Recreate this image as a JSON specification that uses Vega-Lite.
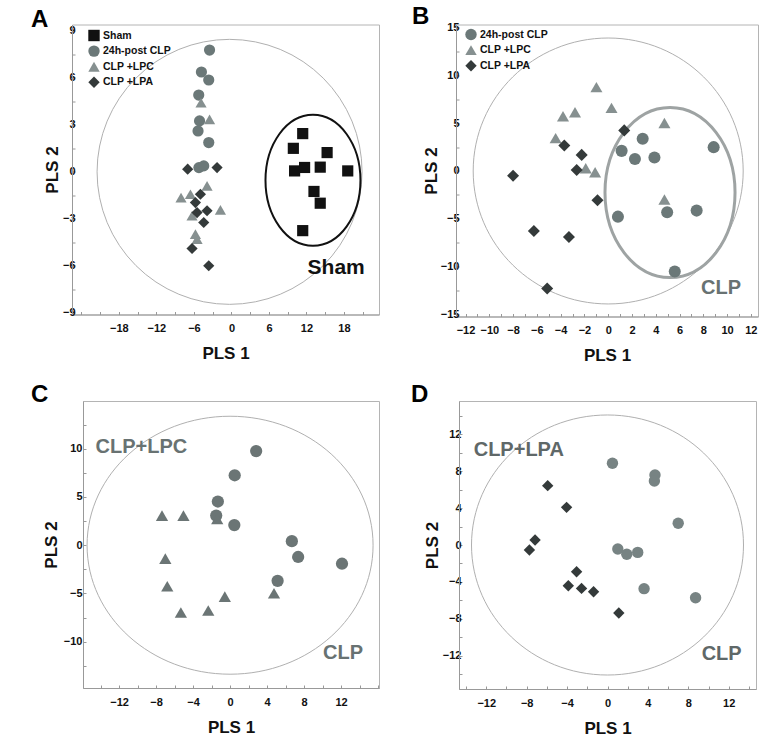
{
  "$schema": "https://vega.github.io/schema/vega-lite/v6.json",
  "background": "white",
  "padding": {"left": 30, "top": 3.5, "right": 0, "bottom": 0},
  "config": {
    "view": {"stroke": "#b4b4b4", "strokeWidth": 1},
    "axis": {
      "grid": false,
      "domainColor": "#999999",
      "tickColor": "#999999",
      "tickSize": -3,
      "labelFont": "Liberation Sans",
      "labelFontWeight": "bold",
      "labelFontSize": 11,
      "labelColor": "#111111",
      "labelOverlap": false,
      "titleFont": "Liberation Sans",
      "titleFontWeight": "bold",
      "titleFontSize": 17,
      "titleColor": "#111111"
    },
    "axisX": {"labelPadding": 11, "titlePadding": 12},
    "axisY": {"labelPadding": 4, "titlePadding": 3},
    "legend": {
      "title": null,
      "orient": "none",
      "padding": 0,
      "labelFont": "Liberation Sans",
      "labelFontWeight": "bold",
      "labelFontSize": 10.5,
      "labelColor": "#111111",
      "symbolSize": 130,
      "symbolStrokeWidth": 0,
      "rowPadding": 3.6,
      "labelOffset": 3
    },
    "title": {"font": "Liberation Sans", "fontSize": 24, "fontWeight": "bold", "color": "#000000", "anchor": "start", "frame": "group", "offset": 0, "baseline": "alphabetic"}
  },
  "datasets": {
    "pa": [
      {"g": "Sham", "pls1": 11.4, "pls2": 2.44},
      {"g": "Sham", "pls1": 9.9, "pls2": 1.5},
      {"g": "Sham", "pls1": 15.3, "pls2": 1.23},
      {"g": "Sham", "pls1": 10.1, "pls2": 0.06},
      {"g": "Sham", "pls1": 11.7, "pls2": 0.28},
      {"g": "Sham", "pls1": 14.2, "pls2": 0.3},
      {"g": "Sham", "pls1": 18.6, "pls2": 0.06},
      {"g": "Sham", "pls1": 13.2, "pls2": -1.25},
      {"g": "Sham", "pls1": 14.2, "pls2": -2.0},
      {"g": "Sham", "pls1": 11.4, "pls2": -3.75},
      {"g": "24h-post CLP", "pls1": -3.5, "pls2": 7.77},
      {"g": "24h-post CLP", "pls1": -4.8, "pls2": 6.37},
      {"g": "24h-post CLP", "pls1": -3.63, "pls2": 5.86},
      {"g": "24h-post CLP", "pls1": -5.23, "pls2": 4.9},
      {"g": "24h-post CLP", "pls1": -5.1, "pls2": 3.25},
      {"g": "24h-post CLP", "pls1": -5.34, "pls2": 2.61},
      {"g": "24h-post CLP", "pls1": -3.63, "pls2": 1.87},
      {"g": "24h-post CLP", "pls1": -5.2, "pls2": 0.27},
      {"g": "24h-post CLP", "pls1": -4.43, "pls2": 0.38},
      {"g": "CLP +LPC", "pls1": -4.86, "pls2": 4.41},
      {"g": "CLP +LPC", "pls1": -3.5, "pls2": 3.35},
      {"g": "CLP +LPC", "pls1": -3.9, "pls2": -0.9},
      {"g": "CLP +LPC", "pls1": -8.06, "pls2": -1.64},
      {"g": "CLP +LPC", "pls1": -6.56, "pls2": -1.43},
      {"g": "CLP +LPC", "pls1": -1.76, "pls2": -2.42},
      {"g": "CLP +LPC", "pls1": -6.3, "pls2": -2.8},
      {"g": "CLP +LPC", "pls1": -5.76, "pls2": -3.97},
      {"g": "CLP +LPC", "pls1": -5.5, "pls2": -4.29},
      {"g": "CLP +LPA", "pls1": -7.0, "pls2": 0.17},
      {"g": "CLP +LPA", "pls1": -2.3, "pls2": 0.27},
      {"g": "CLP +LPA", "pls1": -4.96, "pls2": -1.43},
      {"g": "CLP +LPA", "pls1": -5.76, "pls2": -1.96},
      {"g": "CLP +LPA", "pls1": -3.9, "pls2": -2.48},
      {"g": "CLP +LPA", "pls1": -5.5, "pls2": -2.6},
      {"g": "CLP +LPA", "pls1": -4.43, "pls2": -3.23},
      {"g": "CLP +LPA", "pls1": -6.3, "pls2": -4.89},
      {"g": "CLP +LPA", "pls1": -3.63, "pls2": -5.99}
    ],
    "pb": [
      {"g": "24h-post CLP", "pls1": 1.13, "pls2": 2.1},
      {"g": "24h-post CLP", "pls1": 2.9, "pls2": 3.36},
      {"g": "24h-post CLP", "pls1": 2.25, "pls2": 1.26},
      {"g": "24h-post CLP", "pls1": 3.89, "pls2": 1.4},
      {"g": "24h-post CLP", "pls1": 8.87, "pls2": 2.49},
      {"g": "24h-post CLP", "pls1": 0.82, "pls2": -4.77},
      {"g": "24h-post CLP", "pls1": 4.96, "pls2": -4.31},
      {"g": "24h-post CLP", "pls1": 7.44, "pls2": -4.14},
      {"g": "24h-post CLP", "pls1": 5.6, "pls2": -10.5},
      {"g": "CLP +LPC", "pls1": -0.99, "pls2": 8.76},
      {"g": "CLP +LPC", "pls1": 0.28, "pls2": 6.59},
      {"g": "CLP +LPC", "pls1": -3.8, "pls2": 5.71},
      {"g": "CLP +LPC", "pls1": -2.79, "pls2": 6.13},
      {"g": "CLP +LPC", "pls1": -4.42, "pls2": 3.43},
      {"g": "CLP +LPC", "pls1": 4.73, "pls2": 5.01},
      {"g": "CLP +LPC", "pls1": -1.89, "pls2": 0.28},
      {"g": "CLP +LPC", "pls1": -1.1, "pls2": -0.14},
      {"g": "CLP +LPC", "pls1": 4.73, "pls2": -2.98},
      {"g": "CLP +LPA", "pls1": 1.35, "pls2": 4.24},
      {"g": "CLP +LPA", "pls1": -3.69, "pls2": 2.66},
      {"g": "CLP +LPA", "pls1": -2.23, "pls2": 1.68},
      {"g": "CLP +LPA", "pls1": -2.65, "pls2": 0.1},
      {"g": "CLP +LPA", "pls1": -8.0, "pls2": -0.49},
      {"g": "CLP +LPA", "pls1": -0.9, "pls2": -3.05},
      {"g": "CLP +LPA", "pls1": -6.25, "pls2": -6.27},
      {"g": "CLP +LPA", "pls1": -3.3, "pls2": -6.9},
      {"g": "CLP +LPA", "pls1": -5.13, "pls2": -12.27}
    ],
    "pc": [
      {"g": "CLP", "pls1": 2.82, "pls2": 9.76},
      {"g": "CLP", "pls1": 0.5, "pls2": 7.25},
      {"g": "CLP", "pls1": -1.32, "pls2": 4.53},
      {"g": "CLP", "pls1": -1.5, "pls2": 3.07},
      {"g": "CLP", "pls1": 0.46, "pls2": 2.09},
      {"g": "CLP", "pls1": 6.68, "pls2": 0.42},
      {"g": "CLP", "pls1": 7.36, "pls2": -1.22},
      {"g": "CLP", "pls1": 12.1, "pls2": -1.92},
      {"g": "CLP", "pls1": 5.14, "pls2": -3.69},
      {"g": "CLP+LPC", "pls1": -7.36, "pls2": 3.07},
      {"g": "CLP+LPC", "pls1": -5.04, "pls2": 3.07},
      {"g": "CLP+LPC", "pls1": -1.39, "pls2": 2.72},
      {"g": "CLP+LPC", "pls1": -7.0, "pls2": -1.39},
      {"g": "CLP+LPC", "pls1": -6.79, "pls2": -4.25},
      {"g": "CLP+LPC", "pls1": -0.57, "pls2": -5.33},
      {"g": "CLP+LPC", "pls1": -5.32, "pls2": -6.97},
      {"g": "CLP+LPC", "pls1": -2.36, "pls2": -6.76},
      {"g": "CLP+LPC", "pls1": 4.75, "pls2": -4.98}
    ],
    "pd": [
      {"g": "CLP", "pls1": 0.49, "pls2": 8.85},
      {"g": "CLP", "pls1": 4.7, "pls2": 7.59},
      {"g": "CLP", "pls1": 4.64, "pls2": 6.94},
      {"g": "CLP", "pls1": 7.0, "pls2": 2.35},
      {"g": "CLP", "pls1": 1.02, "pls2": -0.43},
      {"g": "CLP", "pls1": 1.91, "pls2": -1.01},
      {"g": "CLP", "pls1": 2.99, "pls2": -0.8},
      {"g": "CLP", "pls1": 3.62, "pls2": -4.73},
      {"g": "CLP", "pls1": 8.72, "pls2": -5.71},
      {"g": "CLP+LPA", "pls1": -5.92, "pls2": 6.43},
      {"g": "CLP+LPA", "pls1": -4.05, "pls2": 4.08},
      {"g": "CLP+LPA", "pls1": -7.17, "pls2": 0.54},
      {"g": "CLP+LPA", "pls1": -7.73, "pls2": -0.54},
      {"g": "CLP+LPA", "pls1": -3.06, "pls2": -2.89},
      {"g": "CLP+LPA", "pls1": -3.88, "pls2": -4.41},
      {"g": "CLP+LPA", "pls1": -2.57, "pls2": -4.7},
      {"g": "CLP+LPA", "pls1": -1.38, "pls2": -5.06},
      {"g": "CLP+LPA", "pls1": 1.12, "pls2": -7.37}
    ]
  },
  "vconcat": [
    {
      "hconcat": [
        {
          "width": 307,
          "height": 290,
          "title": {"text": "A", "dx": -41, "dy": 11},
          "encoding": {
            "x": {"field": "pls1", "type": "quantitative", "scale": {"domain": [-25.5, 23.6], "nice": false, "zero": false},
              "axis": {"title": "PLS 1", "values": [-24, -21, -18, -15, -12, -9, -6, -3, 0, 3, 6, 9, 12, 15, 18, 21], "labelExpr": "indexof([-18,-12,-6,0,6,12,18], datum.value) >= 0 ? datum.label : ''"}},
            "y": {"field": "pls2", "type": "quantitative", "scale": {"domain": [-9.1, 9.4], "nice": false, "zero": false},
              "axis": {"title": "PLS 2", "labelPadding": 0, "titlePadding": 1, "values": [-9, -7.5, -6, -4.5, -3, -1.5, 0, 1.5, 3, 4.5, 6, 7.5, 9], "labelExpr": "datum.value % 3 === 0 ? datum.label : ''"}}
          },
          "layer": [
            {"data": {"values": [{"v": 0}]}, "mark": {"type": "rule", "color": "#9a9a9a", "strokeWidth": 1}, "encoding": {"x": {"datum": 0}}},
            {"data": {"values": [{"v": 0}]}, "mark": {"type": "rule", "color": "#9a9a9a", "strokeWidth": 1}, "encoding": {"y": {"datum": 0}}},
            {"data": {"values": [{"pls1": -0.3, "pls2": 0}]}, "mark": {"type": "point", "shape": "circle", "size": 70225, "filled": false, "stroke": "#b0b0b0", "strokeWidth": 1, "opacity": 1}},
            {"data": {"values": [{"pls1": 13.04, "pls2": -0.54}]}, "mark": {"type": "point", "shape": "M -0.725 0 A 0.725 1 0 1 0 0.725 0 A 0.725 1 0 1 0 -0.725 0 Z", "size": 17161, "filled": false, "stroke": "#111111", "strokeWidth": 2, "opacity": 1}},
            {
              "data": {"name": "pa"},
              "mark": {"type": "point", "filled": true, "opacity": 1, "size": 125},
              "encoding": {
                "color": {"field": "g", "type": "nominal", "scale": {"domain": ["Sham", "24h-post CLP", "CLP +LPC", "CLP +LPA"], "range": ["#111111", "#6b7878", "#869090", "#343a3a"]}, "legend": {"legendX": 16, "legendY": 5}},
                "shape": {"field": "g", "type": "nominal", "scale": {"domain": ["Sham", "24h-post CLP", "CLP +LPC", "CLP +LPA"], "range": ["square", "circle", "triangle-up", "diamond"]}, "legend": {"legendX": 16, "legendY": 5}}
              }
            },
            {"data": {"values": [{"pls1": 16.75, "pls2": -6.13, "label": "Sham"}]}, "mark": {"type": "text", "font": "Liberation Sans", "fontWeight": "bold", "fontSize": 21, "color": "#111111", "align": "center", "baseline": "middle"}, "encoding": {"text": {"field": "label"}}}
          ]
        },
        {
          "width": 302,
          "height": 292,
          "title": {"text": "B", "dx": -44, "dy": 11.5},
          "encoding": {
            "x": {"field": "pls1", "type": "quantitative", "scale": {"domain": [-12.8, 12.6], "nice": false, "zero": false},
              "axis": {"title": "PLS 1", "values": [-12, -11, -10, -9, -8, -7, -6, -5, -4, -3, -2, -1, 0, 1, 2, 3, 4, 5, 6, 7, 8, 9, 10, 11, 12], "labelExpr": "datum.value % 2 === 0 ? datum.label : ''"}},
            "y": {"field": "pls2", "type": "quantitative", "scale": {"domain": [-15.2, 15.3], "nice": false, "zero": false},
              "axis": {"title": "PLS 2", "labelPadding": 0, "titlePadding": 0, "values": [-15, -12.5, -10, -7.5, -5, -2.5, 0, 2.5, 5, 7.5, 10, 12.5, 15], "labelExpr": "datum.value % 5 === 0 ? datum.label : ''"}}
          },
          "layer": [
            {"data": {"values": [{"v": 0}]}, "mark": {"type": "rule", "color": "#9a9a9a", "strokeWidth": 1}, "encoding": {"x": {"datum": 0}}},
            {"data": {"values": [{"v": 0}]}, "mark": {"type": "rule", "color": "#9a9a9a", "strokeWidth": 1}, "encoding": {"y": {"datum": 0}}},
            {"data": {"values": [{"pls1": 0, "pls2": 0}]}, "mark": {"type": "point", "shape": "M -1 0 A 1 0.985 0 1 0 1 0 A 1 0.985 0 1 0 -1 0 Z", "size": 72900, "filled": false, "stroke": "#b0b0b0", "strokeWidth": 1, "opacity": 1}},
            {"data": {"values": [{"pls1": 5.2, "pls2": -2.25}]}, "mark": {"type": "point", "shape": "M -0.765 0 A 0.765 1 0 1 0 0.765 0 A 0.765 1 0 1 0 -0.765 0 Z", "size": 28900, "filled": false, "stroke": "#9ea3a3", "strokeWidth": 3, "opacity": 1}},
            {
              "data": {"name": "pb"},
              "mark": {"type": "point", "filled": true, "opacity": 1, "size": 145},
              "encoding": {
                "color": {"field": "g", "type": "nominal", "scale": {"domain": ["24h-post CLP", "CLP +LPC", "CLP +LPA"], "range": ["#6b7878", "#869090", "#343a3a"]}, "legend": {"legendX": 9, "legendY": 4}},
                "shape": {"field": "g", "type": "nominal", "scale": {"domain": ["24h-post CLP", "CLP +LPC", "CLP +LPA"], "range": ["circle", "triangle-up", "diamond"]}, "legend": {"legendX": 9, "legendY": 4}}
              }
            },
            {"data": {"values": [{"pls1": 9.49, "pls2": -12.26, "label": "CLP"}]}, "mark": {"type": "text", "font": "Liberation Sans", "fontWeight": "bold", "fontSize": 20, "color": "#687272", "align": "center", "baseline": "middle"}, "encoding": {"text": {"field": "label"}}}
          ]
        }
      ],
      "spacing": 77,
      "bounds": "flush",
      "resolve": {"scale": {"color": "independent", "shape": "independent"}}
    },
    {
      "hconcat": [
        {"width": 11, "height": 1, "view": {"stroke": null}, "data": {"values": [{"s": 0}]}, "mark": {"type": "point", "opacity": 0}, "encoding": {}},
        {
          "width": 296,
          "height": 287,
          "title": {"text": "C", "dx": -52, "dy": 9.5},
          "encoding": {
            "x": {"field": "pls1", "type": "quantitative", "scale": {"domain": [-15.9, 16.1], "nice": false, "zero": false},
              "axis": {"title": "PLS 1", "values": [-14, -12, -10, -8, -6, -4, -2, 0, 2, 4, 6, 8, 10, 12, 14, 16], "labelExpr": "indexof([-12,-8,-4,0,4,8,12], datum.value) >= 0 ? datum.label : ''"}},
            "y": {"field": "pls2", "type": "quantitative", "scale": {"domain": [-14.8, 14.95], "nice": false, "zero": false},
              "axis": {"title": "PLS 2", "values": [-12.5, -10, -7.5, -5, -2.5, 0, 2.5, 5, 7.5, 10, 12.5], "labelExpr": "indexof([-10,-5,0,5,10], datum.value) >= 0 ? datum.label : ''"}}
          },
          "layer": [
            {"data": {"values": [{"v": 0}]}, "mark": {"type": "rule", "color": "#9a9a9a", "strokeWidth": 1}, "encoding": {"x": {"datum": 0}}},
            {"data": {"values": [{"v": 0}]}, "mark": {"type": "rule", "color": "#9a9a9a", "strokeWidth": 1}, "encoding": {"y": {"datum": 0}}},
            {"data": {"values": [{"pls1": 0, "pls2": 0}]}, "mark": {"type": "point", "shape": "M -1 0 A 1 0.902 0 1 0 1 0 A 1 0.902 0 1 0 -1 0 Z", "size": 81796, "filled": false, "stroke": "#b0b0b0", "strokeWidth": 1, "opacity": 1}},
            {
              "data": {"name": "pc"},
              "mark": {"type": "point", "filled": true, "opacity": 1, "size": 150},
              "encoding": {
                "color": {"field": "g", "type": "nominal", "scale": {"domain": ["CLP", "CLP+LPC"], "range": ["#6b7575", "#6b7575"]}, "legend": null},
                "shape": {"field": "g", "type": "nominal", "scale": {"domain": ["CLP", "CLP+LPC"], "range": ["circle", "triangle-up"]}, "legend": null}
              }
            },
            {"data": {"values": [{"pls1": -9.59, "pls2": 10.16, "label": "CLP+LPC"}, {"pls1": 12.22, "pls2": -11.13, "label": "CLP"}]}, "mark": {"type": "text", "font": "Liberation Sans", "fontWeight": "bold", "fontSize": 20, "color": "#687272", "align": "center", "baseline": "middle"}, "encoding": {"text": {"field": "label"}}}
          ]
        },
        {"width": 80, "height": 1, "view": {"stroke": null}, "data": {"values": [{"s": 0}]}, "mark": {"type": "point", "opacity": 0}, "encoding": {}},
        {
          "width": 297,
          "height": 288,
          "title": {"text": "D", "dx": -48, "dy": 9.5},
          "encoding": {
            "x": {"field": "pls1", "type": "quantitative", "scale": {"domain": [-14.7, 14.7], "nice": false, "zero": false},
              "axis": {"title": "PLS 1", "values": [-14, -12, -10, -8, -6, -4, -2, 0, 2, 4, 6, 8, 10, 12, 14], "labelExpr": "indexof([-12,-8,-4,0,4,8,12], datum.value) >= 0 ? datum.label : ''"}},
            "y": {"field": "pls2", "type": "quantitative", "scale": {"domain": [-15.6, 15.6], "nice": false, "zero": false},
              "axis": {"title": "PLS 2", "labelPadding": 1, "titlePadding": 1, "values": [-14, -12, -10, -8, -6, -4, -2, 0, 2, 4, 6, 8, 10, 12, 14], "labelExpr": "indexof([-12,-8,-4,0,4,8,12], datum.value) >= 0 ? datum.label : ''"}}
          },
          "layer": [
            {"data": {"values": [{"v": 0}]}, "mark": {"type": "rule", "color": "#9a9a9a", "strokeWidth": 1}, "encoding": {"x": {"datum": 0}}},
            {"data": {"values": [{"v": 0}]}, "mark": {"type": "rule", "color": "#9a9a9a", "strokeWidth": 1}, "encoding": {"y": {"datum": 0}}},
            {"data": {"values": [{"pls1": 0, "pls2": 0}]}, "mark": {"type": "point", "shape": "M -1 0 A 1 0.956 0 1 0 1 0 A 1 0.956 0 1 0 -1 0 Z", "size": 73984, "filled": false, "stroke": "#b0b0b0", "strokeWidth": 1, "opacity": 1}},
            {
              "data": {"name": "pd"},
              "mark": {"type": "point", "filled": true, "opacity": 1, "size": 130},
              "encoding": {
                "color": {"field": "g", "type": "nominal", "scale": {"domain": ["CLP", "CLP+LPA"], "range": ["#778383", "#343a3a"]}, "legend": null},
                "shape": {"field": "g", "type": "nominal", "scale": {"domain": ["CLP", "CLP+LPA"], "range": ["circle", "diamond"]}, "legend": null}
              }
            },
            {"data": {"values": [{"pls1": -8.78, "pls2": 10.25, "label": "CLP+LPA"}, {"pls1": 11.3, "pls2": -11.8, "label": "CLP"}]}, "mark": {"type": "text", "font": "Liberation Sans", "fontWeight": "bold", "fontSize": 20, "color": "#5f6868", "align": "center", "baseline": "middle"}, "encoding": {"text": {"field": "label"}}}
          ]
        }
      ],
      "spacing": 0,
      "bounds": "flush",
      "resolve": {"scale": {"color": "independent", "shape": "independent"}}
    }
  ],
  "spacing": 17.5,
  "resolve": {"scale": {"color": "independent", "shape": "independent"}}
}
